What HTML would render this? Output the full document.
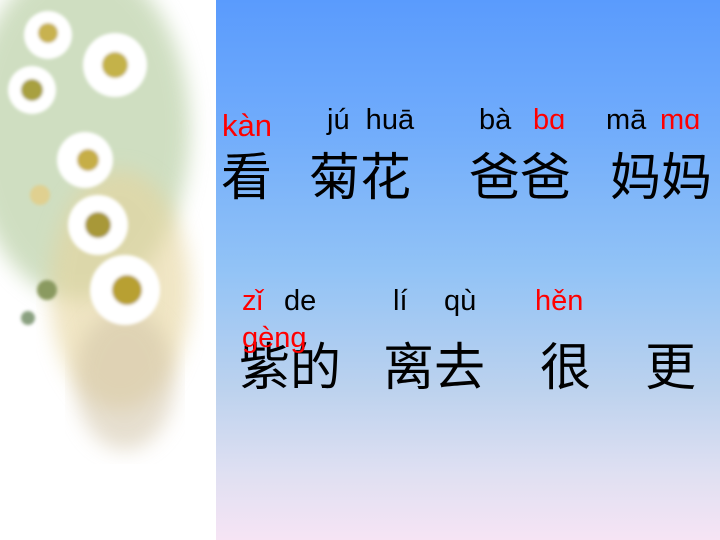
<!DOCTYPE html>
<html><head><meta charset="utf-8"><style>
html,body{margin:0;padding:0}
body{width:720px;height:540px;position:relative;overflow:hidden;background:#fff;font-family:"Liberation Sans","Noto Sans CJK SC",sans-serif}
#left{position:absolute;left:0;top:0;width:216px;height:540px;background:#fff;overflow:hidden}
#right{position:absolute;left:216px;top:0;width:504px;height:540px;background:linear-gradient(to bottom,#5a9bfd 0%,#72adfb 25%,#92c3f6 50%,#bcd2ee 72%,#e0e0f2 88%,#f6e4f4 100%)}
.t{position:absolute;white-space:nowrap;line-height:1}
.py{font-size:29px;color:#000}
.r{color:#f00}
.hz{font-size:51px;color:#000;font-family:"Noto Sans CJK SC","WenQuanYi Zen Hei",sans-serif}
</style></head><body>
<div id="left">
<svg width="216" height="540">
<defs><filter id="b"><feGaussianBlur stdDeviation="10"/></filter><filter id="s"><feGaussianBlur stdDeviation="1.5"/></filter></defs>
<ellipse cx="80" cy="130" rx="110" ry="170" fill="#a9c490" opacity=".55" filter="url(#b)"/>
<ellipse cx="120" cy="290" rx="70" ry="120" fill="#e6d49c" opacity=".6" filter="url(#b)"/>
<ellipse cx="125" cy="380" rx="50" ry="70" fill="#d2c4a8" opacity=".55" filter="url(#b)"/>
<g filter="url(#s)">
<circle cx="115" cy="65" r="32" fill="#fff"/><circle cx="115" cy="65" r="13" fill="#c4b24a"/>
<circle cx="48" cy="35" r="24" fill="#fff"/><circle cx="48" cy="33" r="10" fill="#c8b250"/>
<circle cx="32" cy="90" r="24" fill="#fff"/><circle cx="32" cy="90" r="11" fill="#a8a040"/>
<circle cx="85" cy="160" r="28" fill="#fff"/><circle cx="88" cy="160" r="11" fill="#c6ae46"/>
<circle cx="98" cy="225" r="30" fill="#fff"/><circle cx="98" cy="225" r="13" fill="#a89838"/>
<circle cx="125" cy="290" r="35" fill="#fff"/><circle cx="127" cy="290" r="15" fill="#b8a030"/>
<circle cx="40" cy="195" r="10" fill="#e0d090"/>
<circle cx="47" cy="290" r="10" fill="#8a9a60"/><circle cx="28" cy="318" r="7" fill="#8aa080"/>
</g>
</svg>
</div>
<div id="right"></div>

<div class="t py r" style="left:222px;top:110px;font-size:31px">kàn</div>
<div class="t py" style="left:327px;top:106px">jú&nbsp; huā</div>
<div class="t py" style="left:479px;top:106px">bà</div>
<div class="t py r" style="left:533px;top:106px">bɑ</div>
<div class="t py" style="left:606px;top:106px">mā</div>
<div class="t py r" style="left:660px;top:106px">mɑ</div>

<div class="t hz" style="left:221px;top:148px">看</div>
<div class="t hz" style="left:309px;top:148px">菊花</div>
<div class="t hz" style="left:469px;top:148px">爸爸</div>
<div class="t hz" style="left:610px;top:148px">妈妈</div>

<div class="t py r" style="left:242px;top:287px">zǐ</div>
<div class="t py" style="left:284px;top:287px">de</div>
<div class="t py" style="left:393px;top:287px">lí</div>
<div class="t py" style="left:444px;top:287px">qù</div>
<div class="t py r" style="left:535px;top:287px">hěn</div>

<div class="t hz" style="left:239px;top:338px">紫的</div>
<div class="t hz" style="left:383px;top:338px">离去</div>
<div class="t hz" style="left:540px;top:338px">很</div>
<div class="t hz" style="left:645px;top:338px">更</div>
<div class="t py r" style="left:242px;top:324px">gèng</div>
</body></html>
